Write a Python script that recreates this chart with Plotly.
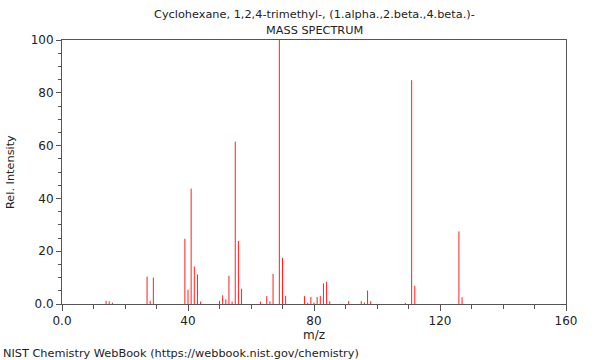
import plotly.graph_objects as go

title_line1 = "Cyclohexane, 1,2,4-trimethyl-, (1.alpha.,2.beta.,4.beta.)-"
title_line2 = "MASS SPECTRUM"
footer = "NIST Chemistry WebBook (https://webbook.nist.gov/chemistry)"
x_title = "m/z"
y_title = "Rel. Intensity"

mz = [14, 15, 16, 27, 28, 29, 39, 40, 41, 42, 43, 44,
      50, 51, 52, 53, 54, 55, 56, 57, 63, 65, 66, 67, 69, 70, 71,
      77, 78, 79, 80, 81, 82, 83, 84, 85, 91, 95, 96, 97, 98,
      109, 111, 112, 126, 127]
intensity = [1.2, 1.0, 0.5, 10.4, 1.2, 10.0, 24.7, 5.4, 43.7, 14.2, 11.2, 0.9,
             1.2, 3.3, 1.7, 10.7, 0.9, 61.5, 23.9, 5.8, 0.9, 3.0, 1.0, 11.4, 100.0, 17.5, 3.1,
             3.0, 0.5, 2.7, 0.5, 2.7, 3.0, 7.8, 8.4, 1.0, 1.1, 1.1, 0.6, 5.1, 1.0,
             0.4, 84.8, 6.9, 27.5, 2.6]

x_tickvals = [0, 40, 80, 120, 160]
x_ticktext = ["0.0", "40", "80", "120", "160"]
y_tickvals = [0, 20, 40, 60, 80, 100]
y_ticktext = ["0.0", "20", "40", "60", "80", "100"]

xs, ys = [], []
for m, v in zip(mz, intensity):
    xs += [m, m, None]
    ys += [0, v, None]

fig = go.Figure()
fig.add_trace(go.Scatter(x=xs, y=ys, mode="lines",
                         line=dict(color="#ff2020", width=1),
                         hoverinfo="skip", showlegend=False))

axis_font = dict(family="DejaVu Sans", size=12, color="#222")
txt_font = dict(size=11.3, family="DejaVu Sans", color="#222")
fig.update_layout(
    width=600, height=360,
    margin=dict(l=62, r=34, t=40, b=56, autoexpand=False),
    paper_bgcolor="white", plot_bgcolor="white",
    font=dict(family="DejaVu Sans", size=12, color="#222"),
    xaxis=dict(range=[0, 160], showgrid=False, zeroline=False, automargin=False,
               showline=True, mirror=True, linecolor="#555", linewidth=1,
               ticks="outside", ticklen=6, tickcolor="#555",
               tickvals=x_tickvals, ticktext=x_ticktext, tickfont=axis_font,
               minor=dict(dtick=10, ticks="outside", ticklen=4, tickcolor="#555")),
    yaxis=dict(range=[0, 100], showgrid=False, zeroline=False, automargin=False,
               showline=True, mirror=True, linecolor="#555", linewidth=1,
               ticks="outside", ticklen=5, tickcolor="#555",
               tickvals=y_tickvals, ticktext=y_ticktext, tickfont=axis_font,
               minor=dict(dtick=5, ticks="outside", ticklen=3, tickcolor="#555")),
    annotations=[
        dict(text=title_line1, xref="paper", yref="paper", x=0.5, y=1,
             yshift=26, showarrow=False, xanchor="center", yanchor="middle", font=txt_font),
        dict(text=title_line2, xref="paper", yref="paper", x=0.5, y=1,
             yshift=10, showarrow=False, xanchor="center", yanchor="middle", font=txt_font),
        dict(text=x_title, xref="paper", yref="paper", x=0.5, y=0,
             yshift=-31, showarrow=False, xanchor="center", yanchor="middle",
             font=dict(size=12, family="DejaVu Sans", color="#222")),
        dict(text=y_title, xref="paper", yref="paper", x=0, y=0.5, textangle=-90,
             xshift=-52, showarrow=False, xanchor="center", yanchor="middle", font=txt_font),
        dict(text=footer, xref="paper", yref="paper", x=0, y=0,
             xshift=-61, yshift=-49, showarrow=False, xanchor="left", yanchor="middle",
             font=txt_font),
    ],
)

fig.write_html("out.html", config={"displayModeBar": False},
               post_script="document.body.style.margin='0';document.body.style.padding='0';")
